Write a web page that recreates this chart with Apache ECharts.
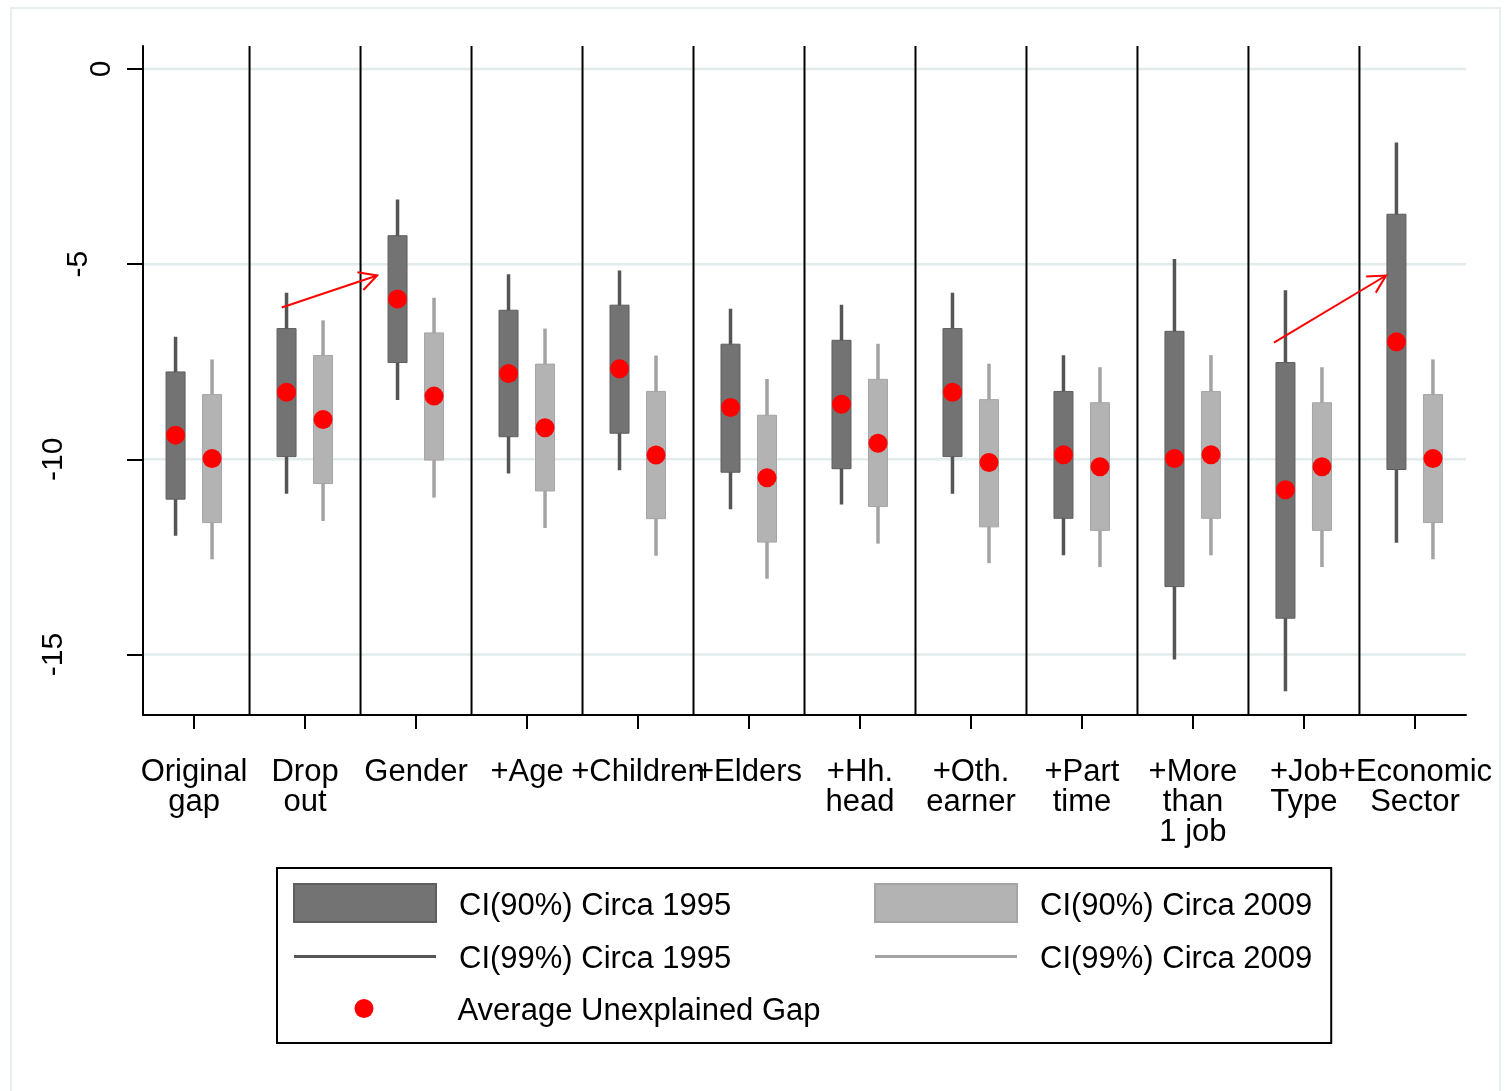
<!DOCTYPE html>
<html>
<head>
<meta charset="utf-8">
<script src="https://cdn.jsdelivr.net/npm/echarts@6/dist/echarts.min.js"></script>
<style>
  html, body { margin: 0; padding: 0; background: #fff; }
  #chart { position: absolute; left: 0; top: 0; width: 1506px; height: 1091px; }
  #frame { position: absolute; left: 10px; top: 7px; width: 1491px; height: 1100px;
           border: 2px solid #e6eeee; pointer-events: none; box-sizing: border-box; }
</style>
</head>
<body>
<div id="chart"></div>
<div id="frame"></div>
<script>
// ---------------- data ----------------
const categories = ['Original\ngap', 'Drop\nout', 'Gender', '+Age', '+Children', '+Elders',
  '+Hh.\nhead', '+Oth.\nearner', '+Part\ntime', '+More\nthan\n1 job', '+Job\nType', '+Economic\nSector'];
const catPos = [1, 2, 3, 4, 5, 6, 7, 8, 9, 10, 11, 12];
const yTicks = [0, -5, -10, -15];

const mean1995     = [-9.38, -8.28, -5.89, -7.80, -7.68, -8.67, -8.59, -8.28, -9.88, -9.98, -10.78, -6.99];
const ci90Low1995  = [-11.02, -9.93, -7.52, -9.42, -9.33, -10.33, -10.24, -9.93, -11.51, -13.26, -14.07, -10.26];
const ci90High1995 = [-7.76, -6.65, -4.27, -6.18, -6.05, -7.05, -6.95, -6.65, -8.26, -6.72, -7.52, -3.72];
const ci99Low1995  = [-11.96, -10.88, -8.48, -10.36, -10.28, -11.28, -11.16, -10.88, -12.46, -15.13, -15.94, -12.14];
const ci99High1995 = [-6.86, -5.73, -3.34, -5.26, -5.16, -6.14, -6.04, -5.73, -7.33, -4.87, -5.67, -1.88];

const mean2009     = [-9.98, -8.98, -8.38, -9.19, -9.89, -10.47, -9.59, -10.08, -10.19, -9.88, -10.19, -9.98];
const ci90Low2009  = [-11.62, -10.62, -10.02, -10.81, -11.52, -12.12, -11.21, -11.73, -11.82, -11.51, -11.82, -11.62];
const ci90High2009 = [-8.34, -7.34, -6.76, -7.56, -8.26, -8.87, -7.95, -8.47, -8.55, -8.26, -8.55, -8.34];
const ci99Low2009  = [-12.56, -11.58, -10.98, -11.76, -12.47, -13.06, -12.16, -12.66, -12.76, -12.46, -12.76, -12.56];
const ci99High2009 = [-7.44, -6.44, -5.86, -6.65, -7.34, -7.94, -7.04, -7.55, -7.64, -7.33, -7.64, -7.44];

// red arrows (from -> to), in axis units
const arrowFromX = [1.79, 10.73];
const arrowFromY = [-6.11, -7.01];
const arrowToX   = [2.65, 11.74];
const arrowToY   = [-5.29, -5.29];

// ---------------- styling ----------------
const FONT = '"Liberation Sans", Arial, Helvetica, sans-serif';
const OFF_1995 = -18.5, OFF_2009 = 18;
const DARK_BOX = '#737373', DARK_BOX_EDGE = '#5e5e5e', DARK_WHISK = '#555555';
const LIGHT_BOX = '#b3b3b3', LIGHT_BOX_EDGE = '#a5a5a5', LIGHT_WHISK = '#a3a3a3';
const GRID_COLOR = '#e3ecec';
const LINE_ICON = 'path://M0,0H142V3H0Z';

function rangeData(lo, hi) { return catPos.map((x, i) => [x, lo[i], hi[i]]); }

function boxRender(offset, w, fill, stroke) {
  return function (params, api) {
    const x = api.value(0);
    const pTop = api.coord([x, api.value(2)]);
    const pBot = api.coord([x, api.value(1)]);
    return {
      type: 'rect',
      shape: { x: pTop[0] + offset - w / 2, y: pTop[1], width: w, height: pBot[1] - pTop[1] },
      style: stroke ? { fill: fill, stroke: stroke, lineWidth: 1 } : { fill: fill }
    };
  };
}

const legendTextStyle = (padLeft) => ({
  fontSize: 31, color: '#000', fontFamily: FONT,
  rich: { t: { fontSize: 31, color: '#000', fontFamily: FONT, padding: [6, 0, 0, padLeft] } }
});

const chart = echarts.init(document.getElementById('chart'), null, { renderer: 'canvas' });

const option = {
  animation: false,
  backgroundColor: '#ffffff',
  textStyle: { fontFamily: FONT },
  grid: { left: 143, right: 40, top: 46, bottom: 376, containLabel: false },
  xAxis: {
    type: 'value', min: 0.54, max: 12.46,
    axisLine: { show: true, onZero: false, lineStyle: { color: '#000', width: 2 } },
    axisTick: { show: true, customValues: catPos, length: 14, lineStyle: { color: '#000', width: 2 } },
    axisLabel: {
      show: true, customValues: catPos, margin: 42,
      formatter: v => categories[Math.round(v) - 1],
      fontSize: 31, lineHeight: 30, color: '#000', fontFamily: FONT
    },
    splitLine: { show: false }
  },
  yAxis: {
    type: 'value', min: -16.55, max: 0.59,
    axisLine: { show: true, onZero: false, lineStyle: { color: '#000', width: 2 } },
    axisTick: { show: true, customValues: yTicks, length: 16, lineStyle: { color: '#000', width: 2 } },
    axisLabel: {
      show: true, customValues: yTicks, rotate: 90, margin: 26,
      formatter: function (v) {
        const k = ['a', 'b', 'c', 'c'][yTicks.indexOf(v)] || 'a';
        return '{' + k + '|' + v + '}';
      },
      rich: {
        a: { fontSize: 30, color: '#000', fontFamily: FONT, padding: [0, 0, 0, 0] },
        b: { fontSize: 30, color: '#000', fontFamily: FONT, padding: [0, 0, 23, 0] },
        c: { fontSize: 30, color: '#000', fontFamily: FONT, padding: [0, 0, 48, 0] }
      }
    },
    splitLine: { show: false }
  },
  legend: [
    { // left column + the framing box
      left: 277, top: 868, orient: 'vertical',
      itemWidth: 142, itemHeight: 38, itemGap: 21,
      padding: [15, 600, 68, 16],
      borderColor: '#000', borderWidth: 2, backgroundColor: 'transparent',
      selectedMode: false,
      formatter: name => '{t|' + name + '}',
      textStyle: legendTextStyle(18),
      data: [
        { name: 'CI(90%) Circa 1995', icon: 'rect' },
        { name: 'CI(99%) Circa 1995', icon: LINE_ICON }
      ]
    },
    { // right column
      left: 874, top: 883, orient: 'vertical',
      itemWidth: 142, itemHeight: 38, itemGap: 21, padding: 0,
      selectedMode: false,
      formatter: name => '{t|' + name + '}',
      textStyle: legendTextStyle(18),
      data: [
        { name: 'CI(90%) Circa 2009', icon: 'rect' },
        { name: 'CI(99%) Circa 2009', icon: LINE_ICON }
      ]
    },
    { // dot row
      left: 354.5, top: 996, orient: 'horizontal',
      itemWidth: 19, itemHeight: 19, itemGap: 15, padding: 0,
      selectedMode: false,
      formatter: name => '{t|' + name + '}',
      textStyle: legendTextStyle(79),
      data: [{ name: 'Average Unexplained Gap', icon: 'circle' }]
    }
  ],
  series: [
    { // horizontal grid lines
      type: 'custom', name: 'gridlines', silent: true, z: 0,
      data: yTicks.map(v => [1, v]), encode: { x: 0, y: 1 },
      renderItem: function (params, api) {
        const cs = params.coordSys;
        const y = api.coord([1, api.value(1)])[1];
        return { type: 'line', shape: { x1: cs.x + 1, y1: y, x2: cs.x + cs.width, y2: y },
                 style: { stroke: GRID_COLOR, lineWidth: 2.5 } };
      }
    },
    { // category separators
      type: 'custom', name: 'separators', silent: true, z: 1,
      data: catPos.slice(0, -1).map(c => [c + 0.5, 0]), encode: { x: 0, y: 1 },
      renderItem: function (params, api) {
        const cs = params.coordSys;
        const x = api.coord([api.value(0), 0])[0];
        return { type: 'line', shape: { x1: x, y1: cs.y, x2: x, y2: cs.y + cs.height },
                 style: { stroke: '#000', lineWidth: 2 } };
      }
    },
    {
      type: 'custom', name: 'CI(99%) Circa 1995', z: 2,
      itemStyle: { color: DARK_WHISK },
      data: rangeData(ci99Low1995, ci99High1995), encode: { x: 0, y: [1, 2] },
      renderItem: boxRender(OFF_1995, 3.5, DARK_WHISK, null)
    },
    {
      type: 'custom', name: 'CI(99%) Circa 2009', z: 2,
      itemStyle: { color: LIGHT_WHISK },
      data: rangeData(ci99Low2009, ci99High2009), encode: { x: 0, y: [1, 2] },
      renderItem: boxRender(OFF_2009, 3.5, LIGHT_WHISK, null)
    },
    {
      type: 'custom', name: 'CI(90%) Circa 1995', z: 3,
      itemStyle: { color: DARK_BOX, borderColor: DARK_BOX_EDGE, borderWidth: 1 },
      data: rangeData(ci90Low1995, ci90High1995), encode: { x: 0, y: [1, 2] },
      renderItem: boxRender(OFF_1995, 19, DARK_BOX, DARK_BOX_EDGE)
    },
    {
      type: 'custom', name: 'CI(90%) Circa 2009', z: 3,
      itemStyle: { color: LIGHT_BOX, borderColor: LIGHT_BOX_EDGE, borderWidth: 1 },
      data: rangeData(ci90Low2009, ci90High2009), encode: { x: 0, y: [1, 2] },
      renderItem: boxRender(OFF_2009, 19, LIGHT_BOX, LIGHT_BOX_EDGE)
    },
    {
      type: 'scatter', name: 'Average Unexplained Gap', z: 4,
      symbol: 'circle', symbolSize: 19, symbolOffset: [OFF_1995, 0],
      itemStyle: { color: '#ff0000', opacity: 1 },
      data: catPos.map((x, i) => [x, mean1995[i]])
    },
    {
      type: 'scatter', name: 'Average Unexplained Gap', z: 4,
      symbol: 'circle', symbolSize: 19, symbolOffset: [OFF_2009, 0],
      itemStyle: { color: '#ff0000', opacity: 1 },
      data: catPos.map((x, i) => [x, mean2009[i]])
    },
    { // red arrows
      type: 'custom', name: 'arrows', silent: true, z: 5,
      data: arrowFromX.map((x, i) => [x, arrowFromY[i], arrowToX[i], arrowToY[i]]),
      encode: { x: [0, 2], y: [1, 3] },
      renderItem: function (params, api) {
        const p0 = api.coord([api.value(0), api.value(1)]);
        const p1 = api.coord([api.value(2), api.value(3)]);
        const ang = Math.atan2(p0[1] - p1[1], p0[0] - p1[0]);
        const L = 20, spread = 28 * Math.PI / 180;
        const a1 = [p1[0] + L * Math.cos(ang + spread), p1[1] + L * Math.sin(ang + spread)];
        const a2 = [p1[0] + L * Math.cos(ang - spread), p1[1] + L * Math.sin(ang - spread)];
        const st = { stroke: '#ff0000', lineWidth: 2, fill: null };
        return {
          type: 'group',
          children: [
            { type: 'line', shape: { x1: p0[0], y1: p0[1], x2: p1[0], y2: p1[1] }, style: st },
            { type: 'polyline', shape: { points: [a1, p1, a2] }, style: st }
          ]
        };
      }
    }
  ]
};

chart.setOption(option);
</script>
</body>
</html>
